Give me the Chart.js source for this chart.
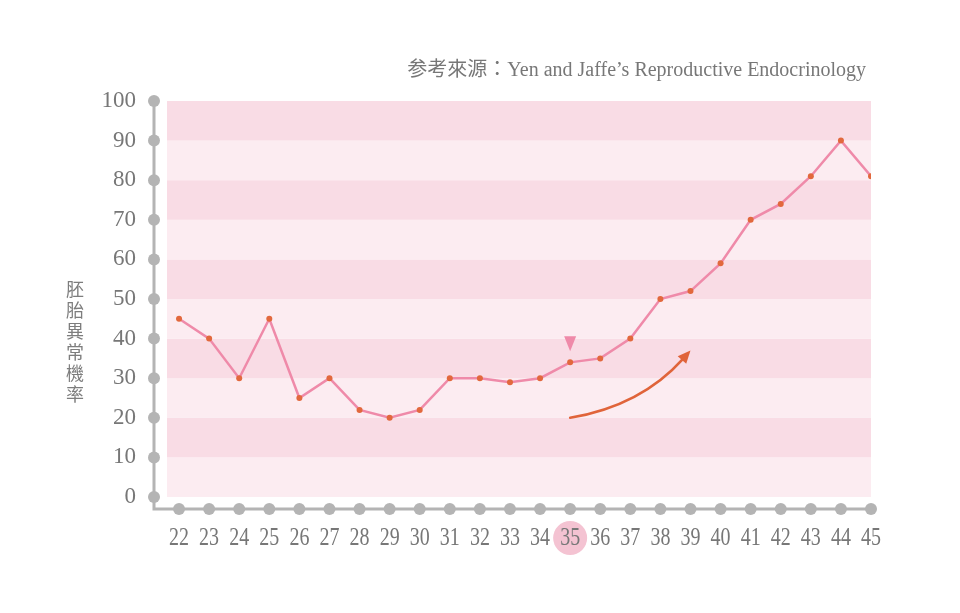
<!DOCTYPE html>
<html>
<head>
<meta charset="utf-8">
<script src="https://cdn.jsdelivr.net/npm/chart.js@4/dist/chart.umd.min.js"></script>
<style>
  html, body { margin: 0; padding: 0; background: #fff; }
  #wrap { width: 960px; height: 613px; position: relative; }
</style>
</head>
<body>
<div id="wrap"><canvas id="riskChart"></canvas></div>
<script>
// 母親年齡 (歲)
const ages = [22, 23, 24, 25, 26, 27, 28, 29, 30, 31, 32, 33, 34, 35, 36, 37, 38, 39, 40, 41, 42, 43, 44, 45];
// 胚胎異常機率 (%)
const rates = [45, 40, 30, 45, 25, 30, 22, 20, 22, 30, 30, 29, 30, 34, 35, 40, 50, 52, 59, 70, 74, 81, 90, 81];
const yTicks = [0, 10, 20, 30, 40, 50, 60, 70, 80, 90, 100];
const highlightAge = 35;
// 趨勢箭頭 (起點、控制點、終點)
const arrowAges = [35, 37.35, 39];
const arrowRates = [20, 23, 37];

const sourceText = '参考來源：Yen and Jaffe’s Reproductive Endocrinology';
const yTitle = '胚胎異常機率';

const gray = '#b4b4b4';
const labelColor = '#777777';
const pinkLine = '#ef8aa9';
const dotColor = '#e2683d';

const decorPlugin = {
    id: 'decor',
    beforeDraw(chart) {
        const ctx = chart.ctx;
        const area = chart.chartArea;
        const x = chart.scales.x, y = chart.scales.y;
        ctx.save();
        // 粉紅色橫條背景
        for (let i = 0; i < yTicks.length - 1; i++) {
            const top = y.getPixelForValue(yTicks[i + 1]);
            const bot = y.getPixelForValue(yTicks[i]);
            ctx.fillStyle = (i % 2 === 1) ? '#f9dce5' : '#fcecf1';
            ctx.fillRect(area.left, top, area.right - area.left, bot - top);
        }
        // 35 歲標示圓
        ctx.fillStyle = '#f4c3d2';
        ctx.beginPath();
        ctx.arc(x.getPixelForValue(highlightAge), area.bottom + 41, 17, 0, Math.PI * 2);
        ctx.fill();

        // 座標軸
        const axisX = area.left - 13;
        const axisY = area.bottom + 12;
        ctx.strokeStyle = gray;
        ctx.lineWidth = 3;
        ctx.beginPath();
        ctx.moveTo(axisX, y.getPixelForValue(100));
        ctx.lineTo(axisX, axisY);
        ctx.lineTo(x.getPixelForValue(ages[ages.length - 1]), axisY);
        ctx.stroke();
        ctx.fillStyle = gray;
        yTicks.forEach(v => {
            ctx.beginPath();
            ctx.arc(axisX, y.getPixelForValue(v), 6, 0, Math.PI * 2);
            ctx.fill();
        });
        ages.forEach(a => {
            ctx.beginPath();
            ctx.arc(x.getPixelForValue(a), axisY, 6, 0, Math.PI * 2);
            ctx.fill();
        });

        // x 軸年齡標籤 (窄體)
        ctx.fillStyle = labelColor;
        ctx.font = '25px "Liberation Serif", serif';
        ctx.textAlign = 'center';
        ctx.textBaseline = 'middle';
        ages.forEach(a => {
            ctx.save();
            ctx.translate(x.getPixelForValue(a), area.bottom + 41);
            ctx.scale(0.8, 1);
            ctx.fillText(String(a), 0, 0);
            ctx.restore();
        });

        // 資料來源
        ctx.font = '20px "Liberation Serif", "Noto Sans CJK TC", serif';
        ctx.textAlign = 'right';
        ctx.fillText(sourceText, area.right - 5, 71);

        // 直式 y 軸標題
        ctx.font = '18px "Noto Sans CJK TC", sans-serif';
        ctx.textAlign = 'center';
        ctx.fillStyle = '#7d7d7d';
        [...yTitle].forEach((ch, i) => {
            ctx.fillText(ch, 75, 289 + i * 21);
        });
        ctx.restore();
    },
    afterDatasetsDraw(chart) {
        const ctx = chart.ctx;
        const x = chart.scales.x, y = chart.scales.y;
        ctx.save();
        // 35 歲的倒三角形
        const idx = ages.indexOf(highlightAge);
        const px = x.getPixelForValue(highlightAge);
        const py = y.getPixelForValue(rates[idx]);
        ctx.fillStyle = pinkLine;
        ctx.beginPath();
        ctx.moveTo(px - 6, py - 26);
        ctx.lineTo(px + 6, py - 26);
        ctx.lineTo(px, py - 11);
        ctx.closePath();
        ctx.fill();

        // 上升趨勢箭頭
        const p = arrowAges.map((a, i) => [x.getPixelForValue(a), y.getPixelForValue(arrowRates[i])]);
        const ang = Math.atan2(p[2][1] - p[1][1], p[2][0] - p[1][0]);
        const len = 14;
        const tipBack = [p[2][0] - Math.cos(ang) * len * 0.8, p[2][1] - Math.sin(ang) * len * 0.8];
        ctx.strokeStyle = '#e0643a';
        ctx.fillStyle = '#e0643a';
        ctx.lineWidth = 2.6;
        ctx.lineCap = 'round';
        ctx.beginPath();
        ctx.moveTo(p[0][0], p[0][1]);
        ctx.quadraticCurveTo(p[1][0], p[1][1], tipBack[0], tipBack[1]);
        ctx.stroke();
        ctx.beginPath();
        ctx.moveTo(p[2][0], p[2][1]);
        ctx.lineTo(p[2][0] - Math.cos(ang - 0.42) * len, p[2][1] - Math.sin(ang - 0.42) * len);
        ctx.lineTo(p[2][0] - Math.cos(ang + 0.42) * len, p[2][1] - Math.sin(ang + 0.42) * len);
        ctx.closePath();
        ctx.fill();
        ctx.restore();
    }
};

const ctx = document.getElementById('riskChart').getContext('2d');
new Chart(ctx, {
    type: 'line',
    data: {
        datasets: [{
            data: ages.map((a, i) => ({ x: a, y: rates[i] })),
            borderColor: pinkLine,
            borderWidth: 2.5,
            tension: 0,
            pointRadius: 3,
            pointBorderWidth: 0,
            pointBackgroundColor: dotColor,
            pointHoverRadius: 3
        }]
    },
    options: {
        responsive: true,
        maintainAspectRatio: false,
        animation: false,
        layout: { padding: { top: 101, right: 89, left: 0, bottom: 0 } },
        plugins: {
            legend: { display: false },
            tooltip: { enabled: false },
            title: { display: false }
        },
        scales: {
            x: {
                type: 'linear',
                min: 21.6,
                max: 45,
                afterBuildTicks: scale => { scale.ticks = ages.map(a => ({ value: a })); },
                afterFit: scale => { scale.height = 116; },
                grid: { display: false, drawTicks: false },
                border: { display: false },
                ticks: { display: false }
            },
            y: {
                min: 0,
                max: 100,
                afterBuildTicks: scale => { scale.ticks = yTicks.map(v => ({ value: v })); },
                afterFit: scale => { scale.width = 167; },
                grid: { display: false, drawTicks: false },
                border: { display: false },
                ticks: {
                    padding: 31,
                    color: labelColor,
                    font: { family: '"Liberation Serif", serif', size: 23 }
                }
            }
        }
    },
    plugins: [decorPlugin]
});
</script>
</body>
</html>
